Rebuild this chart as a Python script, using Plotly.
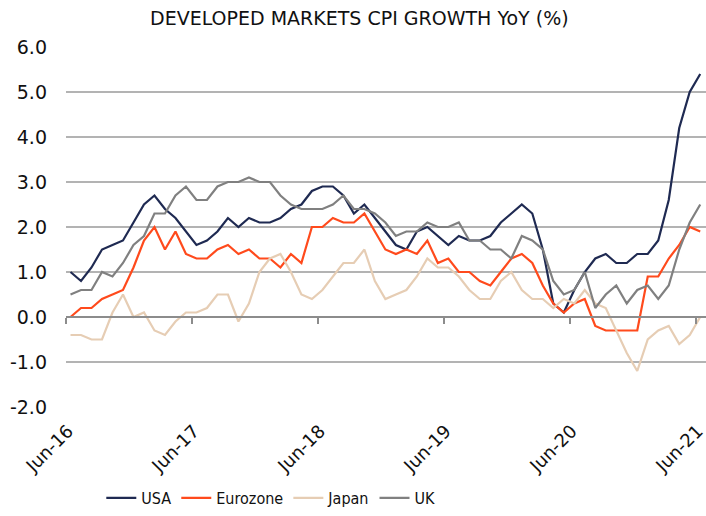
import plotly.graph_objects as go

months = ["Jun-16","Jul-16","Aug-16","Sep-16","Oct-16","Nov-16","Dec-16",
          "Jan-17","Feb-17","Mar-17","Apr-17","May-17","Jun-17","Jul-17","Aug-17","Sep-17","Oct-17","Nov-17","Dec-17",
          "Jan-18","Feb-18","Mar-18","Apr-18","May-18","Jun-18","Jul-18","Aug-18","Sep-18","Oct-18","Nov-18","Dec-18",
          "Jan-19","Feb-19","Mar-19","Apr-19","May-19","Jun-19","Jul-19","Aug-19","Sep-19","Oct-19","Nov-19","Dec-19",
          "Jan-20","Feb-20","Mar-20","Apr-20","May-20","Jun-20","Jul-20","Aug-20","Sep-20","Oct-20","Nov-20","Dec-20",
          "Jan-21","Feb-21","Mar-21","Apr-21","May-21","Jun-21"]

usa = [1.0,0.8,1.1,1.5,1.6,1.7,2.1,2.5,2.7,2.4,
       2.2,1.9,1.6,1.7,1.9,2.2,2.0,2.2,2.1,2.1,
       2.2,2.4,2.5,2.8,2.9,2.9,2.7,2.3,2.5,2.2,
       1.9,1.6,1.5,1.9,2.0,1.8,1.6,1.8,1.7,1.7,
       1.8,2.1,2.3,2.5,2.3,1.5,0.3,0.1,0.6,1.0,
       1.3,1.4,1.2,1.2,1.4,1.4,1.7,2.6,4.2,5.0,5.4]

eurozone = [0.0,0.2,0.2,0.4,0.5,0.6,1.1,1.7,2.0,1.5,
            1.9,1.4,1.3,1.3,1.5,1.6,1.4,1.5,1.3,1.3,
            1.1,1.4,1.2,2.0,2.0,2.2,2.1,2.1,2.3,1.9,
            1.5,1.4,1.5,1.4,1.7,1.2,1.3,1.0,1.0,0.8,
            0.7,1.0,1.3,1.4,1.2,0.7,0.3,0.1,0.3,0.4,
            -0.2,-0.3,-0.3,-0.3,-0.3,0.9,0.9,1.3,1.6,2.0,1.9]

japan = [-0.4,-0.4,-0.5,-0.5,0.1,0.5,0.0,0.1,-0.3,-0.4,
         -0.1,0.1,0.1,0.2,0.5,0.5,-0.1,0.3,1.0,1.3,
         1.4,1.0,0.5,0.4,0.6,0.9,1.2,1.2,1.5,0.8,
         0.4,0.5,0.6,0.9,1.3,1.1,1.1,0.9,0.6,0.4,
         0.4,0.8,1.0,0.6,0.4,0.4,0.2,0.4,0.3,0.6,
         0.3,0.2,-0.3,-0.8,-1.2,-0.5,-0.3,-0.2,-0.6,-0.4,0.0]

uk = [0.5,0.6,0.6,1.0,0.9,1.2,1.6,1.8,2.3,2.3,
      2.7,2.9,2.6,2.6,2.9,3.0,3.0,3.1,3.0,3.0,
      2.7,2.5,2.4,2.4,2.4,2.5,2.7,2.4,2.4,2.3,
      2.1,1.8,1.9,1.9,2.1,2.0,2.0,2.1,1.7,1.7,
      1.5,1.5,1.3,1.8,1.7,1.5,0.8,0.5,0.6,1.0,
      0.2,0.5,0.7,0.3,0.6,0.7,0.4,0.7,1.5,2.1,2.5]

tick_labels = ["Jun-16", "Jun-17", "Jun-18", "Jun-19", "Jun-20", "Jun-21"]
y_ticks = [-2, -1, 0, 1, 2, 3, 4, 5, 6]

series = [("USA", usa, "#1F2A52"), ("Eurozone", eurozone, "#FF4A1C"),
          ("Japan", japan, "#E6CDB4"), ("UK", uk, "#808080")]

x = list(range(len(months)))
offset = -0.43
tick_pos = [months.index(t) + offset for t in tick_labels]

FONT = "DejaVu Sans"
fig = go.Figure()
for name, vals, color in series:
    fig.add_trace(go.Scatter(x=x, y=vals, name=name, mode="lines",
                             line=dict(color=color, width=2.2),
                             customdata=months, cliponaxis=False,
                             hovertemplate="%{customdata}: %{y:.1f}<extra>" + name + "</extra>"))

# helper trace for the axis drawn at y = 0 (tick marks)
fig.add_trace(go.Scatter(x=[x[0]], y=[0], xaxis="x2", mode="markers",
                         marker=dict(opacity=0), showlegend=False, hoverinfo="skip"))

xr = [offset, len(months) - 1 + 0.55]
fig.update_layout(
    template="none",
    width=706, height=516,
    paper_bgcolor="white", plot_bgcolor="white",
    margin=dict(l=66, r=0, t=47, b=109, pad=0),
    title=dict(text="DEVELOPED MARKETS CPI GROWTH YoY (%)", x=0.509, xanchor="center",
               y=0.965, yanchor="middle", font=dict(family=FONT, size=19, color="#111111")),
    font=dict(family=FONT, color="#111111"),
    xaxis=dict(range=xr, tickmode="array", tickvals=tick_pos, ticktext=tick_labels,
               tickangle=-45, showgrid=False, zeroline=False, showline=False, ticks="",
               automargin=False, ticklabelstandoff=9, ticklabelshift=2,
               ticklabeloverflow="allow",
               tickfont=dict(family=FONT, size=18, color="#111111")),
    xaxis2=dict(range=xr, overlaying="x", anchor="free", position=0.25,
                tickmode="array", tickvals=tick_pos, ticktext=["" for _ in tick_pos],
                showgrid=False, zeroline=False, showline=True, linecolor="#8C8C8C", linewidth=1.5,
                ticks="outside", ticklen=6, tickcolor="#8C8C8C", tickwidth=1.5, automargin=False),
    yaxis=dict(range=[-2, 6], tickmode="array", tickvals=y_ticks,
               ticktext=[f"{v:.1f}" for v in y_ticks],
               showgrid=True, gridcolor="#B3B3B3", gridwidth=1.5,
               zeroline=False, showline=False, ticks="", ticklabelstandoff=18,
               automargin=False,
               tickfont=dict(family=FONT, size=19, color="#111111")),
    legend=dict(orientation="h", x=0.32, xanchor="center", y=-0.3, yanchor="bottom",
                font=dict(family="DejaVu Sans Condensed, Liberation Sans Narrow, DejaVu Sans",
                          size=16, color="#111111"),
                itemwidth=30, tracegroupgap=0, bgcolor="rgba(0,0,0,0)"),
    showlegend=True,
)

fig.write_html("out.html", config={"displayModeBar": False},
               post_script="document.body.style.margin='0';document.body.style.overflow='hidden';")
